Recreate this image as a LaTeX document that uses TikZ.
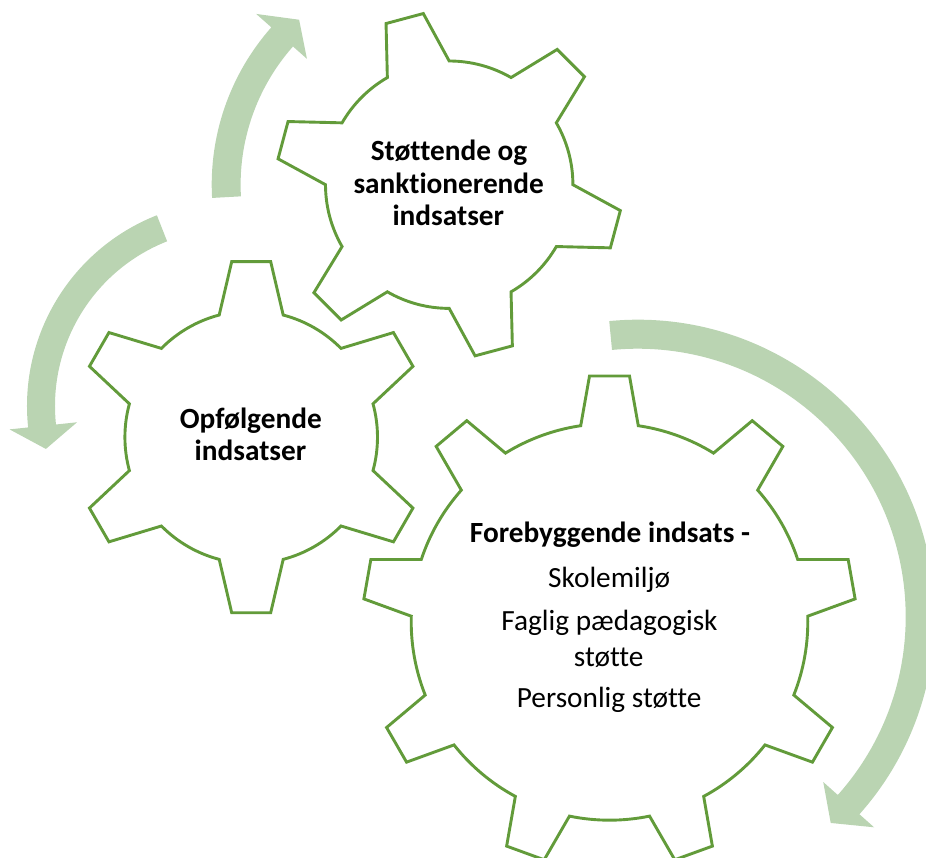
\documentclass[tikz,border=0pt]{standalone}
\usepackage{fontspec}
\setmainfont{Carlito}[Ligatures=NoCommon]
\definecolor{gearcol}{RGB}{98,155,58}
\definecolor{arrowcol}{RGB}{186,212,178}
\tikzset{
  gearline/.style={draw=gearcol, line width=2.9pt, fill=white, line join=miter},
  arrowband/.style={fill=arrowcol, draw=none},
  lbl/.style={anchor=base, inner sep=0pt, font=\fontsize{29.3}{35}\selectfont},
  lblb/.style={anchor=base, inner sep=0pt, font=\fontsize{29.3}{35}\selectfont\bfseries},
}
% #1 centre, #2 teeth, #3 phase, #4 tip radius, #5 tip half angle, #6 root radius, #7 root half angle
\newcommand{\drawgear}[7]{%
  \begin{scope}[shift={#1}]
    \pgfmathsetmacro{\gstep}{360/#2}
    \draw[gearline] ({#3-#7}:#6)
      \foreach \k in {1,...,#2}{
        -- ({#3+(\k-1)*\gstep-#5}:#4)
        -- ({#3+(\k-1)*\gstep+#5}:#4)
        -- ({#3+(\k-1)*\gstep+#7}:#6)
        arc[start angle={#3+(\k-1)*\gstep+#7}, end angle={#3+\k*\gstep-#7}, radius=#6]
      } -- cycle;
  \end{scope}}
% #1 centre, #2 inner r, #3 outer r, #4 tail angle, #5 head base angle, #6 tip angle, #7 inner barb, #8 outer barb
\newcommand{\drawarc}[8]{%
  \begin{scope}[shift={#1}]
    \fill[arrowband] (#4:#3) arc[start angle=#4, end angle=#5, radius=#3]
      -- (#5:{#3+#8}) -- (#6:{(#2+#3)/2}) -- (#5:{#2-#7}) -- (#5:#2)
      arc[start angle=#5, end angle=#4, radius=#2] -- cycle;
  \end{scope}}
\begin{document}
\begin{tikzpicture}[x=1pt,y=1pt]
  \useasboundingbox (0,0) rectangle (926,857);
  \clip (0,0) rectangle (926,857);
  % circular arrows
  \drawarc{(449.2,672.3)}{208.6}{237.5}{183.2}{138.5}{132.3}{18.6}{20.2}
  \drawarc{(232,451)}{177}{205}{111.5}{186}{193}{21.2}{18.7}
  \drawarc{(637.7,240.3)}{268}{297}{95.5}{-41.7}{-46.9}{19.5}{19.6}
  % gears
  \drawgear{(609.5,235.1)}{9}{90}{246.7}{4.65}{198.3}{8.35}
  \drawgear{(251.2,419.8)}{6}{90}{176.6}{6.34}{126.3}{14.68}
  \drawgear{(449.2,672.3)}{6}{105}{173.1}{6.4}{123.7}{15.0}
  % texts
  \node[lblb] (top1) at (449,696.3) {Støttende og};
  \node[lblb] (top2) at (448.7,663) {sanktionerende};
  \node[lblb] (top3) at (448.3,631.5) {indsatser};
  \node[lblb] (left1) at (250.8,428.7) {Opfølgende};
  \node[lblb] (left2) at (250.5,396.3) {indsatser};
  \node[lblb] (big1) at (610,314.5) {Forebyggende indsats -};
  \node[lbl] (big2) at (609.2,269.5) {Skolemiljø};
  \node[lbl] (big3) at (609.5,226) {Faglig pædagogisk};
  \node[lbl] (big4) at (608.7,190) {støtte};
  \node[lbl] (big5) at (609.2,149.5) {Personlig støtte};
\end{tikzpicture}
\end{document}
